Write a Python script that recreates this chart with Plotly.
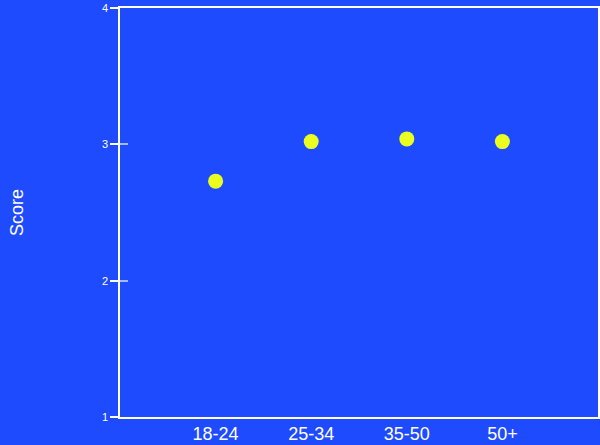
import plotly.graph_objects as go

categories = ["18-24", "25-34", "35-50", "50+"]
scores = [2.73, 3.02, 3.04, 3.02]
y_ticks = [1, 2, 3, 4]

bg = "#1f4bff"
fig = go.Figure(go.Scatter(
    x=categories, y=scores, mode="markers",
    marker=dict(size=15, color="#ebff1f", line=dict(width=0)),
))
# empty helper trace so the overlaid axis (inner tick marks) is drawn
fig.add_trace(go.Scatter(x=[], y=[], yaxis="y2", hoverinfo="skip", showlegend=False))
fig.update_layout(
    width=600, height=445,
    margin=dict(l=120, r=0, t=8, b=28),
    paper_bgcolor=bg, plot_bgcolor=bg,
    font=dict(family="Liberation Sans, Arial, sans-serif", color="white"),
    showlegend=False,
    yaxis2=dict(
        overlaying="y", side="left", range=[1, 4], tickvals=y_ticks,
        showgrid=False, zeroline=False, showline=False,
        ticks="inside", ticklen=8, tickwidth=1.5,
        tickcolor="rgba(255,255,255,0.6)", showticklabels=False,
    ),
    yaxis=dict(
        range=[1, 4], tickvals=y_ticks, showgrid=False, zeroline=False,
        showline=True, linecolor="white", linewidth=1.5, mirror=True,
        ticks="outside", ticklen=8, tickcolor="white", tickwidth=1.5,
        tickfont=dict(size=11, color="white"),
        title=dict(text="Score", font=dict(size=18, color="white"), standoff=74),
    ),
)
fig.update_xaxes(
    type="category", range=[-1, 4], showgrid=False, zeroline=False,
    showline=True, linecolor="white", linewidth=1.5, mirror=True,
    ticks="", tickfont=dict(size=18, color="white"),
)
fig.write_html(
    "out.html",
    config={"displayModeBar": False},
    post_script="document.body.style.margin='0';document.body.style.background='%s';" % bg,
)
